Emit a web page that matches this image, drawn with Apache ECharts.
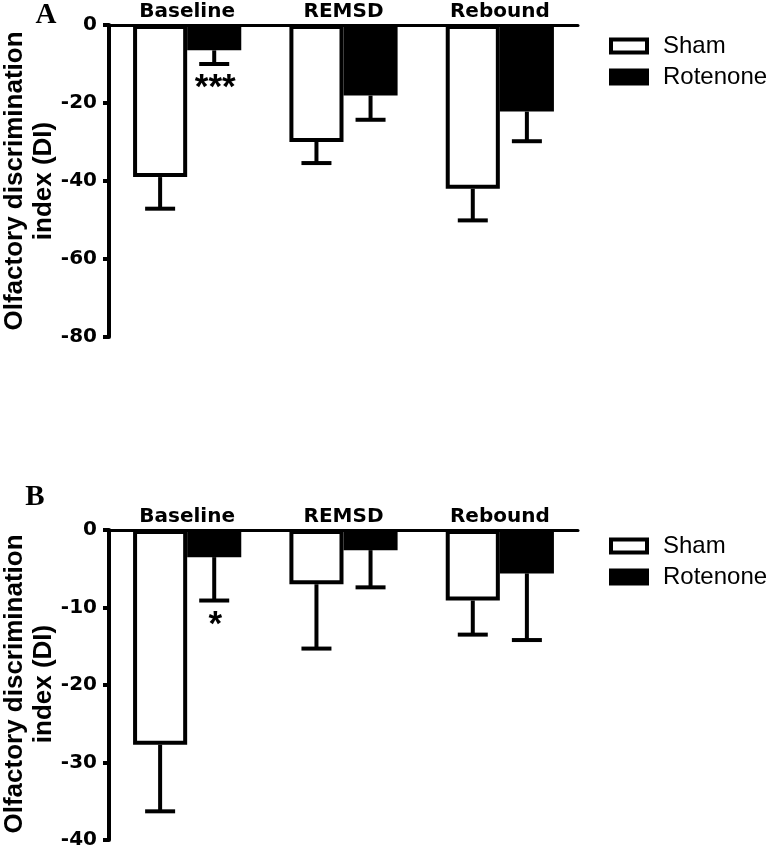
<!DOCTYPE html>
<html>
<head>
<meta charset="utf-8">
<script src="https://cdn.jsdelivr.net/npm/echarts@6/dist/echarts.min.js"></script>
<style>html,body{margin:0;padding:0;background:#fff}#c{width:771px;height:850px}</style>
</head>
<body>
<div id="c"></div>
<script>
// ---------- data ----------
const categories = ['Baseline', 'REMSD', 'Rebound'];
const seriesNames = ['Sham', 'Rotenone'];

// Panel A
const shamA = [-39.0, -30.0, -42.0];
const shamErrA = [8.1, 5.4, 8.1];
const rotA = [-6.5, -18.1, -22.2];
const rotErrA = [3.5, 6.2, 7.6];
const sigRotA = ['***', '', ''];
const yTicksA = [0, -20, -40, -60, -80];

// Panel B
const shamB = [-27.7, -7.0, -9.1];
const shamErrB = [8.6, 8.3, 4.4];
const rotB = [-3.5, -2.6, -5.6];
const rotErrB = [5.6, 4.8, 8.6];
const sigRotB = ['*', '', ''];
const yTicksB = [0, -10, -20, -30, -40];

const yTitle = 'Olfactory discrimination\nindex (DI)';
const panelLabels = ['A', 'B'];

// ---------- styling ----------
const BAR_W = 0.346;
const AX_FONT = 'DejaVu Sans';
const grids = [
  {left: 109, top: 25, width: 469, height: 312},
  {left: 109, top: 530, width: 469, height: 310}
];

function barSeries(idx, name, data, fill) {
  return {
    type: 'bar', name: name, xAxisIndex: idx, yAxisIndex: idx, data: data,
    barWidth: (BAR_W * 100) + '%', barGap: '0%', z: 3,
    itemStyle: {color: fill, borderColor: '#000', borderWidth: 4},
    silent: true
  };
}

function errSeries(idx, vals, errs, sig, side) {
  return {
    type: 'custom', xAxisIndex: idx, yAxisIndex: idx, silent: true, z: 2,
    data: vals.map((v, i) => [i, v, errs[i]]),
    renderItem: function (params, api) {
      const i = api.value(0), v = api.value(1), e = api.value(2);
      const band = api.size([1, 0])[0];
      const bw = band * BAR_W;
      const c0 = api.coord([i, v]);
      const x = c0[0] + side * bw / 2;
      const y0 = c0[1];
      const y1 = api.coord([i, v - e])[1];
      const children = [
        {type: 'line', shape: {x1: x, y1: y0, x2: x, y2: y1}, style: {stroke: '#000', lineWidth: 4}},
        {type: 'line', shape: {x1: x - 15, y1: y1, x2: x + 15, y2: y1}, style: {stroke: '#000', lineWidth: 4}}
      ];
      const s = sig ? sig[params.dataIndex] : '';
      if (s) {
        children.push({
          type: 'text', x: x + 1, y: y1 + 7,
          style: {text: s, fill: '#000', fontSize: 35, fontWeight: 'bold', fontFamily: 'Liberation Sans',
                  align: 'center', verticalAlign: 'top'}
        });
      }
      return {type: 'group', children: children};
    }
  };
}

function xAxis(idx) {
  return {
    gridIndex: idx, type: 'category', data: categories, position: 'top',
    axisLine: {show: true, onZero: false, lineStyle: {color: '#000', width: 3}},
    axisTick: {show: false},
    axisLabel: {color: '#000', fontFamily: AX_FONT, fontWeight: 'bold', fontSize: 20, margin: 3},
    splitLine: {show: false}
  };
}

function yAxis(idx, ticks) {
  return {
    gridIndex: idx, type: 'value',
    min: Math.min.apply(null, ticks), max: Math.max.apply(null, ticks),
    interval: Math.abs(ticks[1] - ticks[0]),
    axisLine: {show: true, lineStyle: {color: '#000', width: 4}},
    axisTick: {show: true, length: 6, lineStyle: {color: '#000', width: 4}},
    axisLabel: {color: '#000', fontFamily: AX_FONT, fontWeight: 'bold', fontSize: 20, margin: 12},
    splitLine: {show: false}
  };
}

function legend(top) {
  return {
    orient: 'vertical', left: 609, top: top, padding: 0, itemGap: 7,
    itemWidth: 36, itemHeight: 13, selectedMode: false,
    data: [
      {name: seriesNames[0], icon: 'rect', itemStyle: {color: '#fff', borderColor: '#000', borderWidth: 4}},
      {name: seriesNames[1], icon: 'rect', itemStyle: {color: '#000', borderColor: '#000', borderWidth: 4}}
    ],
    textStyle: {color: '#000', fontFamily: 'Liberation Sans', fontSize: 24, lineHeight: 24, padding: [0, 0, 0, 11]}
  };
}

function titleText(cx, cy) {
  return {
    type: 'text', x: cx, y: cy, rotation: Math.PI / 2, silent: true,
    style: {text: yTitle, fill: '#000', fontFamily: 'Liberation Sans', fontWeight: 'bold', fontSize: 26,
            lineHeight: 29, align: 'center', verticalAlign: 'middle'}
  };
}

function panelText(label, cx, cy) {
  return {
    type: 'text', x: cx, y: cy, silent: true,
    style: {text: label, fill: '#000', fontFamily: 'Liberation Serif', fontWeight: 'bold', fontSize: 29,
            align: 'center', verticalAlign: 'middle'}
  };
}

const chart = echarts.init(document.getElementById('c'), null, {renderer: 'canvas'});
chart.setOption({
  animation: false,
  backgroundColor: '#fff',
  grid: grids,
  xAxis: [xAxis(0), xAxis(1)],
  yAxis: [yAxis(0, yTicksA), yAxis(1, yTicksB)],
  legend: [legend(34), legend(534)],
  graphic: [
    titleText(29.5, 181),
    titleText(29.5, 684),
    panelText(panelLabels[0], 46, 16),
    panelText(panelLabels[1], 35, 498)
  ],
  series: [
    barSeries(0, seriesNames[0], shamA, '#fff'),
    barSeries(0, seriesNames[1], rotA, '#000'),
    errSeries(0, shamA, shamErrA, null, -1),
    errSeries(0, rotA, rotErrA, sigRotA, 1),
    barSeries(1, seriesNames[0], shamB, '#fff'),
    barSeries(1, seriesNames[1], rotB, '#000'),
    errSeries(1, shamB, shamErrB, null, -1),
    errSeries(1, rotB, rotErrB, sigRotB, 1)
  ]
});
</script>
</body>
</html>
